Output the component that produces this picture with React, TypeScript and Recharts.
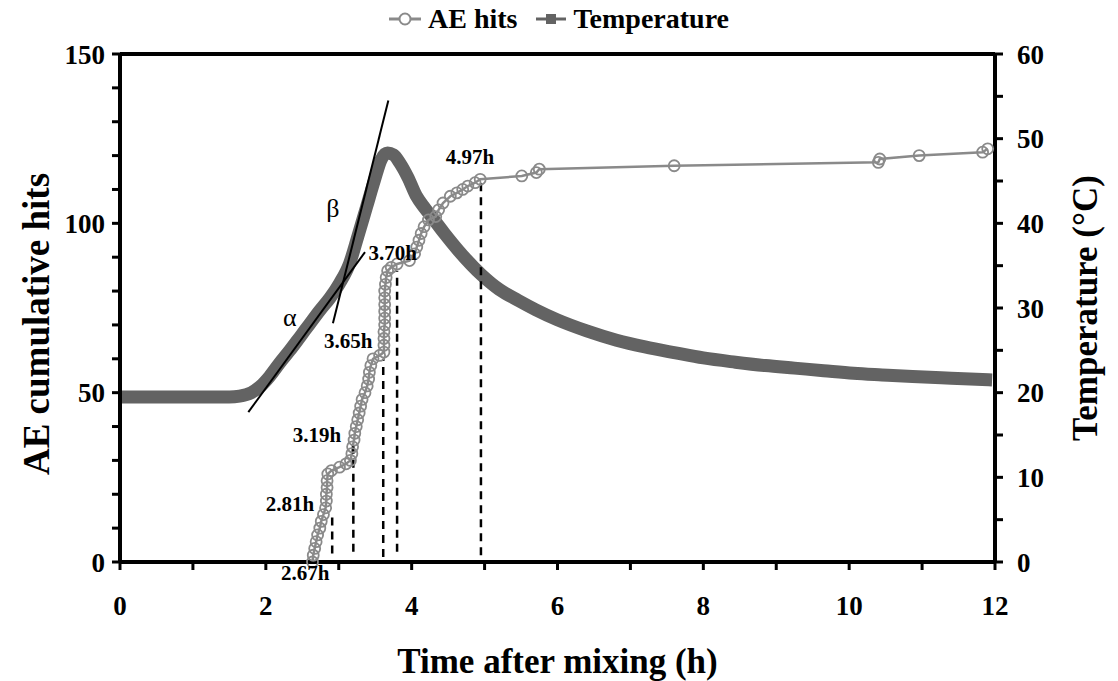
import {
  ComposedChart,
  Line,
  XAxis,
  YAxis,
  ReferenceLine,
  ReferenceDot,
} from "recharts";

// AE cumulative hits (time in h, count)
const aeTime = [
  2.64, 2.65, 2.67, 2.69, 2.71, 2.74, 2.76, 2.79, 2.82, 2.83, 2.83, 2.84, 2.84, 2.85,
  2.9, 3.01, 3.1, 3.16, 3.18, 3.19, 3.21, 3.22, 3.24, 3.26, 3.28, 3.3, 3.32, 3.36,
  3.39, 3.41, 3.42, 3.44, 3.47, 3.56, 3.62, 3.62, 3.62, 3.62, 3.63, 3.63, 3.63, 3.63,
  3.63, 3.63, 3.64, 3.65, 3.67, 3.72, 3.8, 3.97, 4.04, 4.07, 4.1, 4.13, 4.17, 4.23,
  4.33, 4.37, 4.43, 4.53, 4.62, 4.7, 4.77, 4.87, 4.94, 5.51, 5.71, 5.75, 7.6, 10.4,
  10.42, 10.96, 11.83, 11.9,
];
const aeHits = [
  0, 2, 4, 6, 8, 10, 12, 14, 16, 18, 20, 22, 24, 26,
  27, 28, 29, 30, 32, 34, 36, 38, 40, 42, 44, 46, 48, 50,
  52, 54, 56, 58, 60, 61, 62, 64, 66, 68, 70, 72, 74, 76,
  78, 80, 82, 84, 86, 87, 88, 89, 91, 93, 95, 97, 99, 101,
  102, 104, 106, 108, 109, 110, 111, 112, 113, 114, 115, 116, 117, 118,
  119, 120, 121, 122,
];

// temperature (°C)
const tempTime = [
  0, 0.5, 1.0, 1.5, 1.64, 1.8, 1.92, 2.05, 2.19, 2.33, 2.47, 2.6, 2.74, 2.88, 3.01,
  3.15, 3.26, 3.38, 3.49, 3.58, 3.67, 3.75, 3.84, 3.95, 4.06, 4.18, 4.29, 4.45, 4.64,
  4.96, 5.2, 5.46, 5.7, 6.0, 6.4, 6.81, 7.2, 7.62, 8.0, 8.44, 8.85, 9.25, 9.65, 10.06,
  10.45, 10.87, 11.4, 11.96,
];
const tempC = [
  19.5, 19.5, 19.5, 19.5, 19.6, 20.0, 20.7, 21.9, 23.5, 25.0, 26.6, 28.1, 29.7, 31.2, 32.9,
  35.3, 38.4, 41.9, 45.1, 47.5, 48.3, 48.1, 47.1, 45.4, 43.3, 41.8, 40.6, 38.8, 36.8,
  33.9, 32.2, 30.9, 29.8, 28.6, 27.3, 26.2, 25.4, 24.7, 24.1, 23.6, 23.2, 22.9, 22.6, 22.3,
  22.1, 21.9, 21.7, 21.5,
];

// vertical dashed markers (h, from hits, to hits)
const markX = [2.91, 3.2, 3.61, 3.8, 4.95];
const markFrom = [2.5, 3, 1.5, 3, 2];
const markTo = [14.5, 35, 60, 86, 113];

// tangent lines on the temperature curve: [x1, t1, x2, t2]
const tangents = [
  [1.76, 17.7, 3.36, 36.6],
  [2.92, 28.2, 3.68, 54.5],
];

// annotation labels (h, hits)
const noteText = ["4.97h", "3.70h", "3.65h", "3.19h", "2.81h", "2.67h"];
const noteX = [4.8, 3.74, 3.13, 2.7, 2.33, 2.54];
const noteY = [119.6, 91.5, 65.5, 37.5, 17.4, -3.2];
const greekText = ["α", "β"];
const greekX = [2.33, 2.92];
const greekY = [72.3, 104.5];

const xTicks = [0, 1, 2, 3, 4, 5, 6, 7, 8, 9, 10, 11, 12];
const leftTicks = [0, 10, 20, 30, 40, 50, 60, 70, 80, 90, 100, 110, 120, 130, 140, 150];
const rightTicks = [0, 5, 10, 15, 20, 25, 30, 35, 40, 45, 50, 55, 60];

const aeData = aeTime.map((t, i) => ({ t, hits: aeHits[i] }));
const tempData = tempTime.map((t, i) => ({ t, temp: tempC[i] }));

const FONT = "'Liberation Serif', 'Times New Roman', serif";
const AE_COLOR = "#8a8a8a";
const TEMP_COLOR = "#636363";

const tickStyle = { fontSize: 27, fontWeight: 700, fill: "#000", fontFamily: FONT };
const titleStyle = { fontSize: 35, fontWeight: 700, fill: "#000", fontFamily: FONT, textAnchor: "middle" as const };

// left axis title, drawn a bit below the plot centre like the original
function LeftTitle(props: any) {
  const vb = props.viewBox || {};
  const cx = vb.x + 36;
  const cy = vb.y + vb.height / 2 + 16;
  return (
    <text
      x={cx}
      y={cy}
      transform={`rotate(-90, ${cx}, ${cy})`}
      textAnchor="middle"
      dominantBaseline="central"
      style={{ fontSize: 37, fontWeight: 700, fontFamily: FONT, fill: "#000" }}
    >
      AE cumulative hits
    </text>
  );
}

function LegendBar() {
  return (
    <div
      style={{
        position: "absolute",
        top: 3,
        left: 0,
        width: 1118,
        display: "flex",
        justifyContent: "center",
        alignItems: "center",
        fontFamily: FONT,
        fontWeight: 700,
        fontSize: 28,
        gap: 7,
      }}
    >
      <svg width={32} height={16}>
        <line x1={0} y1={8} x2={32} y2={8} stroke={AE_COLOR} strokeWidth={3} />
        <circle cx={16} cy={8} r={5.5} fill="#fff" stroke={AE_COLOR} strokeWidth={2} />
      </svg>
      <span style={{ marginRight: 12 }}>AE hits</span>
      <svg width={30} height={16}>
        <line x1={0} y1={8} x2={30} y2={8} stroke={TEMP_COLOR} strokeWidth={3} />
        <rect x={10} y={3} width={10} height={10} fill={TEMP_COLOR} />
      </svg>
      <span>Temperature</span>
    </div>
  );
}

export default function App() {
  return (
    <div style={{ position: "absolute", left: 0, top: 0, width: 1118, height: 681, background: "#fff" }}>
      <LegendBar />
      <ComposedChart
        width={1118}
        height={681}
        margin={{ top: 54, right: 0, bottom: 0, left: 0 }}
      >
        <XAxis
          dataKey="t"
          type="number"
          domain={[0, 12]}
          ticks={xTicks}
          allowDataOverflow
          height={119}
          tickSize={8}
          tickMargin={26}
          axisLine={{ stroke: "#000", strokeWidth: 4 }}
          tickLine={{ stroke: "#000", strokeWidth: 3 }}
          tick={tickStyle}
          tickFormatter={(v) => (v % 2 === 0 ? String(v) : "")}
          label={{ value: "Time after mixing (h)", position: "insideBottom", offset: 8, style: titleStyle }}
        />
        <YAxis
          yAxisId="left"
          type="number"
          domain={[0, 150]}
          ticks={leftTicks}
          width={120}
          tickSize={8}
          tickMargin={7}
          axisLine={{ stroke: "#000", strokeWidth: 4 }}
          tickLine={{ stroke: "#000", strokeWidth: 3 }}
          tick={tickStyle}
          tickFormatter={(v) => (v % 50 === 0 ? String(v) : "")}
          label={<LeftTitle />}
        />
        <YAxis
          yAxisId="right"
          orientation="right"
          type="number"
          domain={[0, 60]}
          ticks={rightTicks}
          width={123}
          tickSize={8}
          tickMargin={14}
          axisLine={{ stroke: "#000", strokeWidth: 4 }}
          tickLine={{ stroke: "#000", strokeWidth: 3 }}
          tick={tickStyle}
          tickFormatter={(v) => (v % 10 === 0 ? String(v) : "")}
          label={{ value: "Temperature (°C)", angle: -90, position: "insideRight", offset: 33, style: titleStyle }}
        />
        <ReferenceLine yAxisId="left" y={150} stroke="#000" strokeWidth={4} />

        <Line
          yAxisId="right"
          data={tempData}
          dataKey="temp"
          name="Temperature"
          type="monotone"
          stroke={TEMP_COLOR}
          strokeWidth={13}
          dot={false}
          isAnimationActive={false}
        />
        <Line
          yAxisId="left"
          data={aeData}
          dataKey="hits"
          name="AE hits"
          type="linear"
          stroke={AE_COLOR}
          strokeWidth={2.5}
          dot={{ r: 5.5, fill: "none", stroke: AE_COLOR, strokeWidth: 1.8 }}
          isAnimationActive={false}
        />

        {markX.map((x, i) => (
          <ReferenceLine
            key={`m${i}`}
            yAxisId="left"
            segment={[
              { x, y: markFrom[i] },
              { x, y: markTo[i] },
            ]}
            stroke="#000"
            strokeWidth={2.5}
            strokeDasharray="8 6"
          />
        ))}
        {tangents.map((s, i) => (
          <ReferenceLine
            key={`t${i}`}
            yAxisId="right"
            segment={[
              { x: s[0], y: s[1] },
              { x: s[2], y: s[3] },
            ]}
            stroke="#000"
            strokeWidth={2}
            ifOverflow="visible"
          />
        ))}
        {noteText.map((txt, i) => (
          <ReferenceDot
            key={`n${i}`}
            yAxisId="left"
            x={noteX[i]}
            y={noteY[i]}
            r={0}
            fill="none"
            stroke="none"
            ifOverflow="visible"
            label={{
              value: txt,
              position: "center",
              style: { fontSize: 21, fontWeight: 700, fill: "#000", fontFamily: FONT },
            }}
          />
        ))}
        {greekText.map((txt, i) => (
          <ReferenceDot
            key={`g${i}`}
            yAxisId="left"
            x={greekX[i]}
            y={greekY[i]}
            r={0}
            fill="none"
            stroke="none"
            label={{
              value: txt,
              position: "center",
              style: { fontSize: 26, fill: "#000", fontFamily: FONT },
            }}
          />
        ))}
      </ComposedChart>
    </div>
  );
}
